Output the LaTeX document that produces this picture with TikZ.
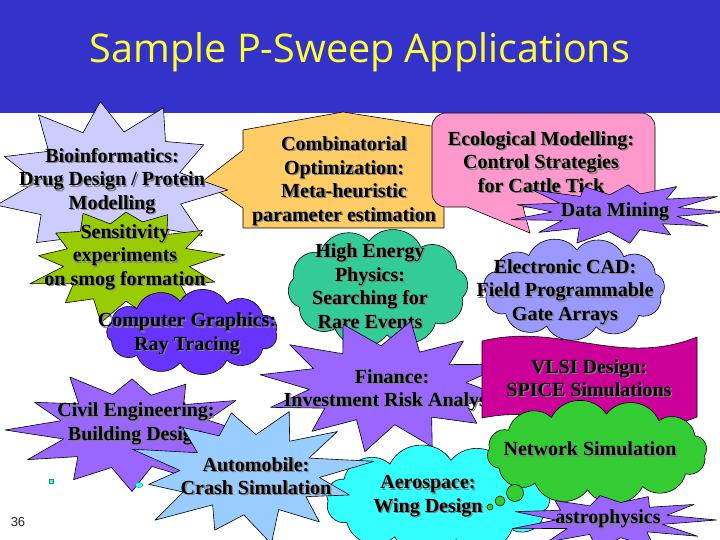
\documentclass[tikz,border=0pt]{standalone}
\usepackage{fontspec}
\setmainfont{Liberation Serif}
\newfontfamily\titlefont{Open Sans}
\newfontfamily\numfont{Liberation Sans}
\usetikzlibrary{calc}

\definecolor{hdr}{RGB}{51,51,204}
\definecolor{ttl}{RGB}{255,255,51}
\definecolor{lav}{RGB}{204,204,255}
\definecolor{lime}{RGB}{153,204,0}
\definecolor{orng}{RGB}{255,204,102}
\definecolor{pnk}{RGB}{255,153,204}
\definecolor{purp}{RGB}{153,102,255}
\definecolor{teal}{RGB}{51,204,153}
\definecolor{peri}{RGB}{153,153,255}
\definecolor{viol}{RGB}{102,51,255}
\definecolor{mag}{RGB}{204,0,153}
\definecolor{sky}{RGB}{153,204,255}
\definecolor{cyn}{RGB}{51,255,255}
\definecolor{grn}{RGB}{51,204,51}
\definecolor{shd}{RGB}{130,130,130}

\tikzset{
  shp/.style={draw=black, line width=0.6pt, line join=round},
  lbl/.style={align=center, font=\fontsize{20}{23.5}\selectfont\bfseries, inner sep=0pt},
}

\newcommand\slabel[3]{%
  \node[lbl, text=shd] (#1s) at ($(#2)+(1.4,1.4)$) {#3};
  \node[lbl] (#1) at (#2) {#3};}

% fill, cx, cy, rx, ry, points, ratio, start angle, seed
\newcommand\starshape[9]{%
  \pgfmathsetseed{#9}%
  \pgfmathtruncatemacro\starlast{2*#6-2}%
  \path[shp, fill=#1] ({#2+#7*#4*cos(#8-180/#6)},{#3+#7*#5*sin(#8-180/#6)})
    \foreach \i [evaluate=\i as \a using {#8+\i*180/#6},
                 evaluate=\i as \r using {mod(\i,2)==0 ? 1+0.12*rand : #7*(1+0.08*rand)}]
      in {0,...,\starlast} { -- ({#2+\r*#4*cos(\a)},{#3+\r*#5*sin(\a)}) } -- cycle;}

% fill, cx, cy, rx, ry, bumps, start angle
\newcommand\cloudshape[7]{%
  \path[shp, fill=#1] ({#2+#4*cos(#7)},{#3+#5*sin(#7)})
    \foreach \i [evaluate=\i as \a using {#7+\i*360/#6}] in {1,...,#6}
      { to[bend left=60, looseness=1.1] ({#2+#4*cos(\a)},{#3+#5*sin(\a)}) } -- cycle;}

\begin{document}
\begin{tikzpicture}[x=1pt, y=-1pt]
\useasboundingbox (0,0) rectangle (720,540);
\fill[white] (0,0) rectangle (720,540);
\fill[hdr] (0,0) rectangle (720,113);
\node[text=ttl, inner sep=0pt] (title) at (360,52)
  {\resizebox{540pt}{!}{\titlefont Sample P-Sweep Applications}};

% Combinatorial callout
\path[shp, fill=orng] (243,130) -- (343,112) -- (444,128) -- (444,228) -- (243,228)
  -- (243,208) -- (203,181) -- (243,150) -- cycle;
\slabel{comb}{344,181}{Combinatorial\\Optimization:\\Meta-heuristic\\parameter estimation}

% Bioinformatics
\starshape{lav}{110}{185}{112}{85}{11}{0.66}{-95}{7}
\slabel{bio}{112,181}{Bioinformatics:\\Drug Design / Protein\\Modelling}

% Sensitivity
\starshape{lime}{126}{262}{94}{56}{13}{0.7}{-90}{3}
\slabel{sens}{125,257}{Sensitivity\\experiments\\on smog formation}

% Computer graphics
\cloudshape{viol}{192}{332}{84}{31}{11}{0}
\slabel{cg}{187,334}{Computer Graphics:\\Ray Tracing}

% Ecological callout
\path[shp, fill=pnk] (530,233) -- (467,207) [rounded corners=14pt] -- (432,207) -- (432,113)
  -- (655,113) -- (655,207) [sharp corners] -- (523,207) -- cycle;
\slabel{eco}{541,162}{Ecological Modelling:\\Control Strategies\\for Cattle Tick}

% Electronic CAD
\cloudshape{peri}{574}{289}{88}{39}{11}{10}
\slabel{ecad}{565,292}{Electronic CAD:\\Field Programmable\\Gate Arrays}

% Data Mining
\starshape{purp}{617}{212}{102}{30}{13}{0.62}{0}{11}
\slabel{dm}{615,212}{Data Mining}

% High energy physics
\cloudshape{teal}{378}{288}{86}{47}{10}{-60}
\slabel{hep}{370,286}{High Energy\\Physics:\\Searching for\\Rare Events}

% Finance
\starshape{purp}{388}{386}{124}{62}{12}{0.65}{-80}{5}
\slabel{fin}{392,390}{Finance:\\Investment Risk Analysis}

% VLSI banner
\path[shp, fill=mag] (482,341) .. controls (560,322) and (620,368) .. (697,337)
  -- (697,417) .. controls (620,448) and (560,402) .. (482,418) -- cycle;
\slabel{vlsi}{589,378}{VLSI Design:\\SPICE Simulations}

% Civil engineering
\starshape{purp}{132}{430}{118}{58}{12}{0.62}{-60}{9}
\slabel{civil}{136,424}{Civil Engineering:\\Building Design}

% Aerospace
\cloudshape{cyn}{438}{500}{110}{40}{11}{15}
\slabel{aero}{428,496}{Aerospace:\\Wing Design}

% Automobile
\starshape{sky}{250}{474}{114}{66}{12}{0.6}{-70}{13}
\slabel{auto}{256,476}{Automobile:\\Crash Simulation}

% Network simulation
\cloudshape{grn}{597}{452}{108}{38}{12}{5}
\path[shp, fill=grn] (490,507) circle[radius=3pt];
\path[shp, fill=grn] (500,501) circle[radius=5pt];
\path[shp, fill=grn] (515,493) circle[radius=8.5pt];
\slabel{net}{590,449}{Network Simulation}

% astrophysics
\starshape{purp}{612}{520}{95}{28}{11}{0.6}{0}{17}
\slabel{astro}{608,519}{astrophysics}

% small marks
\path[draw=teal!70!black, fill=cyn, line width=0.5pt] (49,479) rectangle (53,483);
\path[draw=teal!70!black, fill=cyn, line width=0.5pt] (139,485) ellipse[x radius=4pt, y radius=2.5pt];

\node[font=\numfont\fontsize{13}{13}\selectfont, text=black!85, inner sep=0pt] (pg) at (18,522) {36};
\end{tikzpicture}
\end{document}
